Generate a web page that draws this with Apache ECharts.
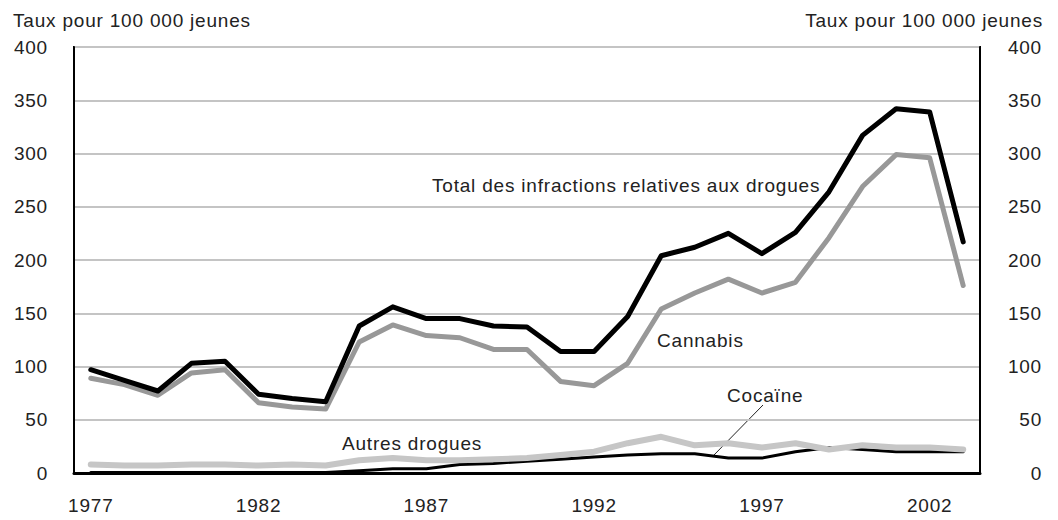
<!DOCTYPE html>
<html>
<head>
<meta charset="utf-8">
<script src="https://cdn.jsdelivr.net/npm/echarts@6/dist/echarts.min.js"></script>
<style>
    html, body { margin: 0; padding: 0; background: #fff; }
    #main { width: 1058px; height: 520px; }
    #main text { letter-spacing: 0.8px; }
</style>
</head>
<body>
<div id="main"></div>
<script>
// données (taux pour 100 000 jeunes)
var years = ['1977', '1978', '1979', '1980', '1981', '1982', '1983', '1984', '1985', '1986',
    '1987', '1988', '1989', '1990', '1991', '1992', '1993', '1994', '1995', '1996',
    '1997', '1998', '1999', '2000', '2001', '2002', '2003'];
var totalDrogues = [97, 87, 77, 103, 105, 74, 70, 67, 138, 156, 145, 145, 138, 137, 114, 114,
    147, 204, 212, 225, 206, 226, 264, 317, 342, 339, 217];
var cannabis = [89, 83, 73, 94, 97, 66, 62, 60, 123, 139, 129, 127, 116, 116, 86, 82,
    103, 154, 169, 182, 169, 179, 221, 269, 299, 296, 176];
var cocaine = [0.5, 0.5, 0.5, 0.5, 0.5, 0.5, 0.5, 0.5, 2, 4, 4, 8, 9, 11, 13, 15,
    17, 18, 18, 14, 14, 20, 24, 22, 20, 20, 20];
var autresDrogues = [8, 7, 7, 8, 8, 7, 8, 7, 12, 14, 12, 12, 13, 14, 17, 20,
    28, 34, 26, 28, 24, 28, 22, 26, 24, 24, 22];

var font = "'Liberation Sans', Arial, sans-serif";
var txt = '#222';
var fs = 19;

var chart = echarts.init(document.getElementById('main'), null, {renderer: 'svg'});

var lineSerie = function (name, data, color, width) {
    return {
        name: name,
        type: 'line',
        data: data,
        symbol: 'none',
        silent: true,
        animation: false,
        lineStyle: {color: color, width: width, join: 'round', cap: 'round'}
    };
};

var option = {
    backgroundColor: '#fff',
    animation: false,
    textStyle: {fontFamily: font},
    grid: {
        left: 74, right: 78, top: 47, bottom: 47,
        show: true, borderColor: '#000', borderWidth: 2, backgroundColor: 'transparent'
    },
    xAxis: {
        type: 'category',
        data: years,
        boundaryGap: true,
        axisLine: {lineStyle: {color: '#000', width: 3}},
        axisTick: {inside: true, length: 9, interval: 0, lineStyle: {color: '#000', width: 2}},
        axisLabel: {
            interval: 4, margin: 23,
            fontSize: fs, color: txt, fontFamily: font
        },
        splitLine: {show: false}
    },
    yAxis: [{
        type: 'value',
        min: 0, max: 400, interval: 50,
        axisLine: {show: true, lineStyle: {color: '#000', width: 2}},
        axisTick: {show: false},
        axisLabel: {margin: 26, fontSize: fs, color: txt, fontFamily: font},
        splitLine: {lineStyle: {color: '#c4c4c4', width: 2}}
    }, {
        type: 'value',
        position: 'right',
        min: 0, max: 400, interval: 50,
        axisLine: {show: true, lineStyle: {color: '#000', width: 2}},
        axisTick: {show: false},
        axisLabel: {margin: 62, align: 'right', fontSize: fs, color: txt, fontFamily: font},
        splitLine: {show: false}
    }],
    series: [
        lineSerie('Cocaïne', cocaine, '#000', 3),
        lineSerie('Autres drogues', autresDrogues, '#c6c6c6', 6),
        lineSerie('Cannabis', cannabis, '#989898', 5),
        lineSerie('Total des infractions relatives aux drogues', totalDrogues, '#000', 5)
    ],
    graphic: [
        {type: 'text', x: 13, y: 20, style: {text: 'Taux pour 100 000 jeunes', font: fs + 'px ' + font, fill: txt, verticalAlign: 'middle'}},
        {type: 'text', x: 1043, y: 20, style: {text: 'Taux pour 100 000 jeunes', font: fs + 'px ' + font, fill: txt, align: 'right', verticalAlign: 'middle'}},
        {type: 'text', x: 432, y: 185, style: {text: 'Total des infractions relatives aux drogues', font: fs + 'px ' + font, fill: txt, verticalAlign: 'middle'}},
        {type: 'text', x: 657, y: 340, style: {text: 'Cannabis', font: fs + 'px ' + font, fill: txt, verticalAlign: 'middle'}},
        {type: 'text', x: 727, y: 395, style: {text: 'Cocaïne', font: fs + 'px ' + font, fill: txt, verticalAlign: 'middle'}},
        {type: 'text', x: 342, y: 443, style: {text: 'Autres drogues', font: fs + 'px ' + font, fill: txt, verticalAlign: 'middle'}},
        {type: 'line', shape: {x1: 763, y1: 405, x2: 713, y2: 456}, style: {stroke: '#222', lineWidth: 1}}
    ]
};
chart.setOption(option);
</script>
</body>
</html>
